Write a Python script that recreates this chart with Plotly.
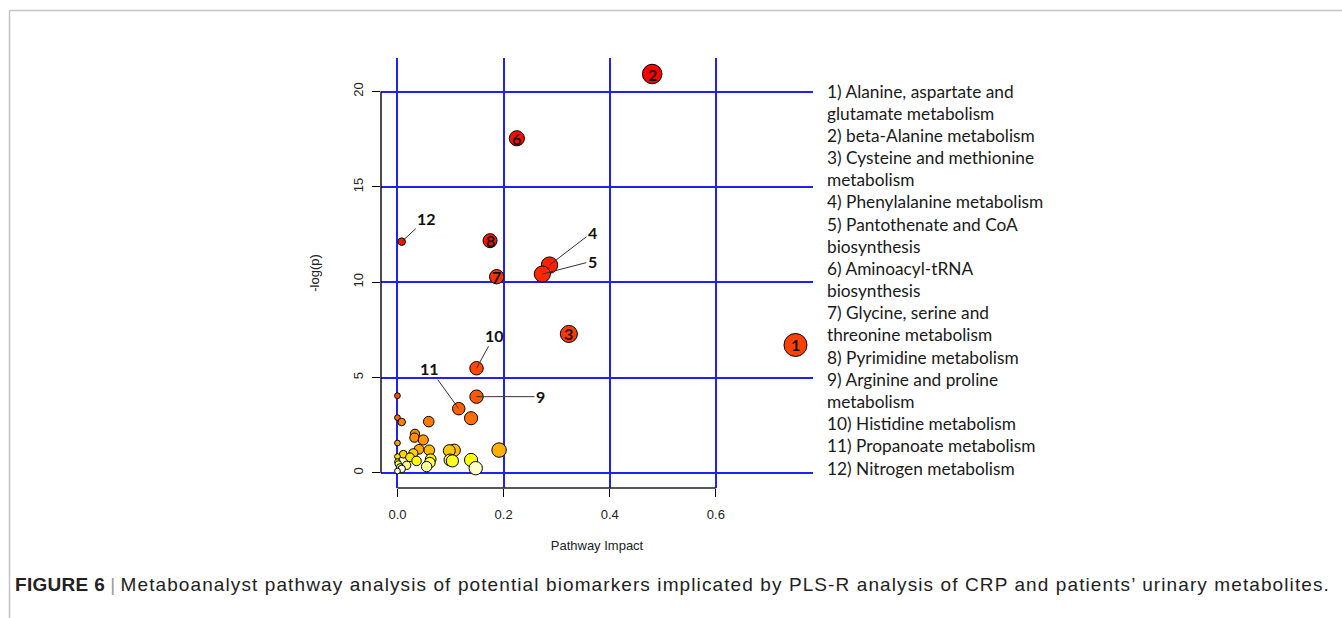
import colorsys
import plotly.graph_objects as go

# Pathway impact (x) and -log(p) (y) for each pathway, ordered by significance
impact = [0.480, 0.225, 0.1745, 0.008, 0.2865, 0.273, 0.187, 0.323, 0.750, 0.149,
          0.0, 0.149, 0.1155, 0.0, 0.1387, 0.059, 0.008, 0.033, 0.032, 0.0487,
          0.0, 0.0406, 0.1915, 0.060, 0.107, 0.0977, 0.0299, 0.011, 0.0, 0.0236,
          0.0626, 0.099, 0.1387, 0.036, 0.1035, 0.0, 0.061, 0.0015, 0.0173, 0.055,
          0.005, 0.1475, 0.008, 0.0]
neglogp = [20.92, 17.55, 12.18, 12.13, 10.90, 10.43, 10.29, 7.29, 6.71, 5.49,
           4.05, 4.00, 3.37, 2.90, 2.87, 2.69, 2.67, 2.05, 1.85, 1.73,
           1.57, 1.24, 1.20, 1.19, 1.19, 1.17, 1.03, 0.98, 0.86, 0.82,
           0.72, 0.68, 0.68, 0.63, 0.63, 0.59, 0.54, 0.47, 0.40, 0.33,
           0.30, 0.25, 0.21, 0.10]
path_no = ["2", "6", "8", "12", "4", "5", "7", "3", "1", "10",
           "", "9", "11"] + [""] * 31

# numbers written inside their circle
inside_labels = ["1", "2", "3", "6", "7", "8"]
# numbers placed beside the circle with a leader line: pixel offset of the text
leader_offsets = {"12": (25, -23), "4": (43, -33), "5": (50, -13),
                  "10": (18, -33), "11": (-29, -40), "9": (64, 0)}

legend_lines = [
    "1) Alanine, aspartate and", "glutamate metabolism",
    "2) beta-Alanine metabolism",
    "3) Cysteine and methionine", "metabolism",
    "4) Phenylalanine metabolism",
    "5) Pantothenate and CoA", "biosynthesis",
    "6) Aminoacyl-tRNA", "biosynthesis",
    "7) Glycine, serine and", "threonine metabolism",
    "8) Pyrimidine metabolism",
    "9) Arginine and proline", "metabolism",
    "10) Histidine metabolism",
    "11) Propanoate metabolism",
    "12) Nitrogen metabolism",
]

caption_label = "FIGURE 6"
caption_text = ("Metaboanalyst pathway analysis of potential biomarkers implicated by "
                "PLS-R analysis of CRP and patients\u2019 urinary metabolites.")

x_ticks = [0.0, 0.2, 0.4, 0.6]
y_ticks = [0, 5, 10, 15, 20]

# page geometry
W, H = 1342, 618
ML, MR, MT, MB = 381, 529, 58, 130
PW = W - ML - MR
PH = H - MT - MB
XR = [-0.031, 0.783]
YR = [-0.79, 21.76]


def px_x(px):
    return (px - ML) / PW


def px_y(py):
    return (H - MB - py) / PH


def hsv_hex(h, s, v):
    r, g, b = colorsys.hsv_to_rgb(h, s, v)
    return "#%02X%02X%02X" % (round(r * 255), round(g * 255), round(b * 255))


def heat_colors(n):
    # same ramp as R's heat.colors(): red -> yellow, then fading to white
    j = n // 4
    i = n - j
    cols = [hsv_hex((k / (i - 1)) * (1 / 6), 1, 1) for k in range(i)]
    if j > 0:
        s0, s1 = 1 - 1 / (2 * j), 1 / (2 * j)
        for k in range(j):
            s = s0 + (s1 - s0) * k / (j - 1) if j > 1 else s0
            cols.append(hsv_hex(1 / 6, s, 1))
    return cols


# circle radius grows with sqrt(impact), as in the MetaboAnalyst summary plot
sq = [v ** 0.5 for v in impact]
mn, mx = min(sq), max(sq)
maxR = (mx - mn) / 40
minR = (mx - mn) / 160
px_per_x = PW / (XR[1] - XR[0])
diam = [2 * px_per_x * (minR + (maxR - minR) * (s - mn) / (mx - mn)) for s in sq]
colors = heat_colors(len(impact))

fig = go.Figure()
fig.add_trace(go.Scatter(
    x=impact, y=neglogp, mode="markers",
    marker=dict(size=diam, color=colors, opacity=1,
                line=dict(color="#000000", width=1)),
    hoverinfo="x+y", showlegend=False,
))

annotations = []
label_font = dict(family="Lato, Carlito, sans-serif", size=16, color="#111111")
for xv, yv, lab in zip(impact, neglogp, path_no):
    if lab in inside_labels:
        annotations.append(dict(x=xv, y=yv, xref="x", yref="y", text="<b>%s</b>" % lab,
                                showarrow=False, font=label_font))
    elif lab in leader_offsets:
        ax, ay = leader_offsets[lab]
        annotations.append(dict(x=xv, y=yv, xref="x", yref="y", text="<b>%s</b>" % lab,
                                showarrow=True, arrowhead=0, arrowwidth=1,
                                arrowcolor="#333333", ax=ax, ay=ay, standoff=0,
                                font=label_font))

# numbered key to the right of the plot
for k, line in enumerate(legend_lines):
    annotations.append(dict(x=px_x(825), y=px_y(91 + k * 22.18), xref="paper", yref="paper",
                            xanchor="left", yanchor="middle", text=line, showarrow=False,
                            font=dict(family="Lato, Carlito, sans-serif", size=17.3,
                                      color="#1a1a1a")))

# figure caption
annotations.append(dict(
    x=px_x(13), y=px_y(584), xref="paper", yref="paper", xanchor="left", yanchor="middle",
    showarrow=False,
    text=("<span style='letter-spacing:0.3px'><b>%s</b></span> "
          "<span style='color:#9a9a9a'>|</span> "
          "<span style='letter-spacing:1.1px'>%s</span>" % (caption_label, caption_text)),
    font=dict(family="Liberation Sans, Arial, sans-serif", size=19, color="#222222"),
))

shapes = [
    # axis lines limited to the tick range
    dict(type="line", xref="paper", yref="y", x0=0, x1=0, y0=y_ticks[0], y1=y_ticks[-1],
         line=dict(color="#000000", width=1.4)),
    dict(type="line", xref="x", yref="paper", x0=x_ticks[0], x1=x_ticks[-1], y0=0, y1=0,
         line=dict(color="#222222", width=1.4)),
    # page frame
    dict(type="line", xref="paper", yref="paper", x0=px_x(9.5), x1=px_x(W), y0=px_y(10.5),
         y1=px_y(10.5), line=dict(color="#c4c4c4", width=1.5)),
    dict(type="line", xref="paper", yref="paper", x0=px_x(9.5), x1=px_x(9.5), y0=px_y(10.5),
         y1=px_y(H), line=dict(color="#c4c4c4", width=1.5)),
]

axis_font = dict(family="Liberation Sans, Arial, sans-serif", size=13, color="#222222")
fig.update_layout(
    width=W, height=H,
    margin=dict(l=ML, r=MR, t=MT, b=MB),
    paper_bgcolor="white", plot_bgcolor="white",
    font=axis_font,
    xaxis=dict(range=XR, tickvals=x_ticks, ticktext=["%.1f" % v for v in x_ticks],
               showgrid=True, gridcolor="#2020FF", gridwidth=1.5, zeroline=False,
               showline=False, ticks="outside", ticklen=8, tickcolor="#000000",
               tickfont=axis_font, ticklabelstandoff=6,
               title=dict(text="Pathway Impact", font=axis_font, standoff=20)),
    yaxis=dict(range=YR, tickvals=y_ticks, showgrid=True, gridcolor="#2020FF",
               gridwidth=1.5, zeroline=False, showline=False, ticks="outside",
               ticklen=8, tickcolor="#000000", tickangle=-90, tickfont=axis_font,
               ticklabelstandoff=4,
               title=dict(text="-log(p)", font=axis_font, standoff=28)),
    annotations=annotations,
    shapes=shapes,
)

fig.write_html("out.html")
